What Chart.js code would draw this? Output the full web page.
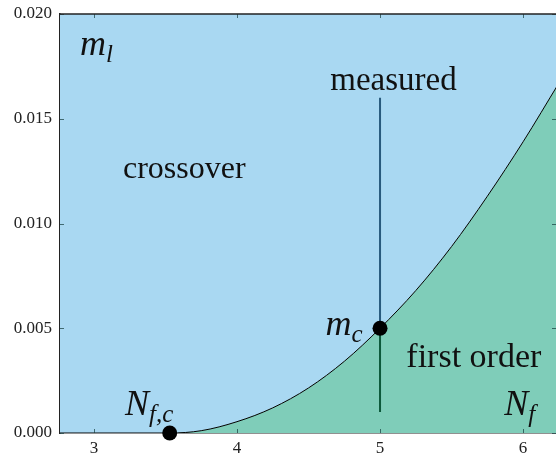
<!DOCTYPE html>
<html>
<head>
<meta charset="utf-8">
<script src="https://cdn.jsdelivr.net/npm/chart.js@4"></script>
<style>
  html, body { margin: 0; padding: 0; background: #fff; }
</style>
</head>
<body>
<canvas id="phase" width="556" height="457"></canvas>
<script>
// boundary line m_c(N_f)
const boundaryNf = [2.75, 3.53, 3.75, 4.0, 4.25, 4.5, 4.75, 5.0, 5.25, 5.5, 5.75, 6.0, 6.25];
const boundaryM  = [0, 0, 0.00011, 0.00054, 0.0012, 0.00215, 0.00342, 0.005, 0.0068, 0.0089, 0.0113, 0.0139, 0.0167];

// the two marked points: N_f,c and m_c
const markNf = [3.53, 5.0];
const markM  = [0, 0.005];

// measured line at N_f = 5
const measuredNf = 5.0;
const measuredTop = 0.016;
const measuredMid = 0.005;
const measuredBottom = 0.001;

const xTicks = [3, 4, 5, 6];
const yTicks = [0, 0.005, 0.01, 0.015, 0.02];

const BLUE = 'rgb(169,216,242)';
const GREEN = 'rgb(127,205,185)';
const SERIF = '"Liberation Serif", "DejaVu Serif", serif';

const boundary = boundaryNf.map((x, i) => ({ x: x, y: boundaryM[i] }));

// inward ticks on all four sides, top border, and the text labels
const decorations = {
  id: 'decorations',
  afterDatasetsDraw(chart) {
    const ctx = chart.ctx;
    const a = chart.chartArea;
    const xs = chart.scales.x, ys = chart.scales.y;
    ctx.save();
    ctx.strokeStyle = 'rgba(20,60,60,0.7)';
    ctx.lineWidth = 1;
    xTicks.forEach(v => {
      const px = Math.round(xs.getPixelForValue(v)) + 0.5;
      ctx.beginPath();
      ctx.moveTo(px, a.bottom); ctx.lineTo(px, a.bottom - 4);
      ctx.moveTo(px, a.top); ctx.lineTo(px, a.top + 4);
      ctx.stroke();
    });
    yTicks.forEach(v => {
      const py = Math.round(ys.getPixelForValue(v)) + 0.5;
      ctx.beginPath();
      ctx.moveTo(a.left, py); ctx.lineTo(a.left + 4, py);
      ctx.moveTo(a.right, py); ctx.lineTo(a.right - 4, py);
      ctx.stroke();
    });
    ctx.strokeStyle = '#222';
    ctx.lineWidth = 1.5;
    ctx.beginPath();
    ctx.moveTo(a.left, a.top); ctx.lineTo(a.right, a.top);
    ctx.stroke();

    ctx.fillStyle = '#111';
    ctx.textBaseline = 'alphabetic';
    const X = v => xs.getPixelForValue(v), Y = v => ys.getPixelForValue(v);
    const plain = (t, size, x, y, align) => {
      ctx.font = size + 'px ' + SERIF;
      ctx.textAlign = align || 'left';
      ctx.fillText(t, X(x), Y(y));
    };
    const sym = (base, sub, x, y) => {
      ctx.textAlign = 'left';
      ctx.font = 'italic 36px ' + SERIF;
      ctx.fillText(base, X(x), Y(y));
      const w = ctx.measureText(base).width;
      ctx.font = 'italic 25px ' + SERIF;
      ctx.fillText(sub, X(x) + w, Y(y) + 7);
    };
    sym('m', 'l', 2.903, 0.01804);
    plain('crossover', 32, 3.203, 0.01217);
    plain('measured', 33, 5.094, 0.01637, 'center');
    sym('m', 'c', 4.619, 0.00468);
    plain('first order', 34, 5.184, 0.00315);
    sym('N', 'f,c', 3.217, 0.00086);
    sym('N', 'f', 5.868, 0.00086);
    ctx.restore();
  }
};

new Chart(document.getElementById('phase'), {
  type: 'line',
  data: {
    datasets: [
      {
        // marked points
        data: markNf.map((x, i) => ({ x: x, y: markM[i] })),
        showLine: false,
        pointRadius: 7.5,
        pointBackgroundColor: '#000',
        pointBorderWidth: 0,
        clip: false
      },
      {
        data: [{ x: measuredNf, y: measuredTop }, { x: measuredNf, y: measuredMid }],
        borderColor: 'rgb(40,90,125)',
        borderWidth: 2,
        pointRadius: 0
      },
      {
        data: [{ x: measuredNf, y: measuredMid }, { x: measuredNf, y: measuredBottom }],
        borderColor: 'rgb(12,88,58)',
        borderWidth: 2,
        pointRadius: 0
      },
      {
        // boundary + first-order region
        data: boundary,
        borderColor: '#000',
        borderWidth: 1,
        pointRadius: 0,
        cubicInterpolationMode: 'monotone',
        fill: 'origin',
        backgroundColor: GREEN
      },
      {
        // crossover region
        data: boundary,
        borderWidth: 0,
        borderColor: 'rgba(0,0,0,0)',
        pointRadius: 0,
        cubicInterpolationMode: 'monotone',
        fill: 'end',
        backgroundColor: BLUE
      }
    ]
  },
  options: {
    responsive: false,
    animation: false,
    layout: { autoPadding: false, padding: { top: 14, right: 0, left: 0, bottom: 0 } },
    plugins: { legend: { display: false }, tooltip: { enabled: false } },
    scales: {
      x: {
        type: 'linear',
        min: 2.763,
        max: 6.23,
        afterBuildTicks: s => { s.ticks = xTicks.map(v => ({ value: v })); },
        afterFit: s => { s.height = 24; s.paddingLeft = 0; s.paddingRight = 0; },
        grid: { display: true, drawOnChartArea: false, drawTicks: false },
        border: { color: '#222', width: 1.5 },
        ticks: { color: '#222', font: { family: SERIF, size: 17 }, padding: 5, maxRotation: 0 }
      },
      y: {
        min: 0,
        max: 0.02,
        afterBuildTicks: s => { s.ticks = yTicks.map(v => ({ value: v })); },
        afterFit: s => { s.width = 60; s.paddingTop = 0; s.paddingBottom = 0; },
        grid: { display: true, drawOnChartArea: false, drawTicks: false },
        border: { color: '#222', width: 1.5 },
        ticks: { color: '#222', font: { family: SERIF, size: 17 }, padding: 8,
                 callback: v => v.toFixed(3) }
      }
    }
  },
  plugins: [decorations]
});
</script>
</body>
</html>
